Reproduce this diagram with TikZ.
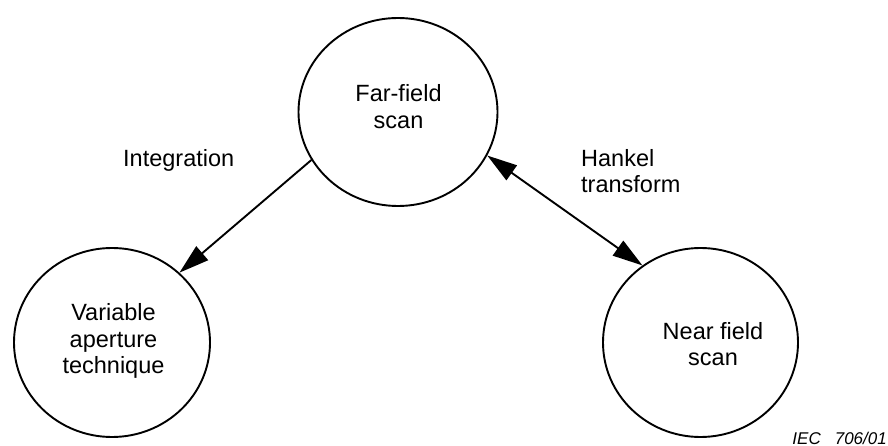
\documentclass[tikz,border=0pt]{standalone}
\usepackage{fontspec}
\setmainfont{Liberation Sans}
\usetikzlibrary{shapes.geometric,arrows.meta}
\tikzset{
  bubble/.style={draw, ellipse, line width=1.9pt, inner sep=0pt},
  lbl/.style={inner sep=0pt, font=\fontsize{23.5}{26.3}\selectfont},
  conn/.style={line width=1.9pt, -{Triangle[length=30pt,width=18pt]}},
  dconn/.style={line width=1.9pt, {Triangle[length=30pt,width=18pt]}-{Triangle[length=30pt,width=18pt]}}
}
\begin{document}
\begin{tikzpicture}[x=1pt,y=-1pt]
\useasboundingbox (0,0) rectangle (888,446);
% circles
\node[bubble, minimum width=199pt, minimum height=188pt] (far) at (398,112) {};
\node[bubble, minimum width=196pt, minimum height=189pt] (var) at (112,342.5) {};
\node[bubble, minimum width=195pt, minimum height=189pt] (near) at (700.5,342.5) {};
% texts in circles (base anchor = baseline of last line)
\node[lbl, align=center, anchor=base] (fartxt) at (398.5,128.2) {Far-field\\scan};
\node[lbl, align=center, anchor=base] (vartxt) at (113.5,373.5) {Variable\\aperture\\technique};
\node[lbl, align=center, anchor=base] (neartxt) at (713,365.5) {Near field\\scan};
% connector labels
\node[lbl, anchor=base west] (integ) at (123,166.7) {Integration};
\node[lbl, align=left, anchor=base west] (hankel) at (581,193) {Hankel\\transform};
% connectors
\draw[conn] (far.209.45) -- (var.46.4);
\draw[dconn] (far.334.7) -- (near.127.7);
% reference
\node[inner sep=0pt, anchor=base east, font=\fontsize{17}{19}\selectfont\itshape] (iec) at (887,444) {IEC\hspace{14pt}706/01};
\end{tikzpicture}
\end{document}
